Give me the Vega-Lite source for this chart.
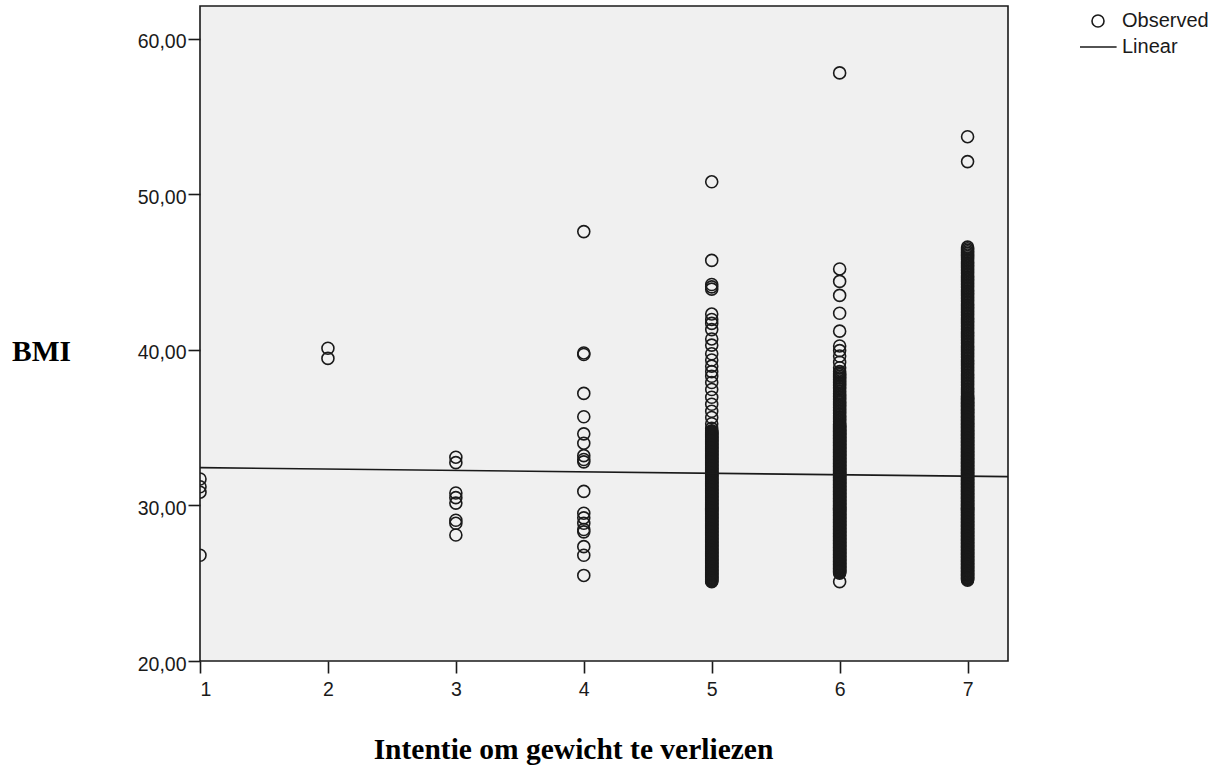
{
"$schema":"https://vega.github.io/schema/vega-lite/v6.json",
"width":808,"height":655,
"autosize":{"type":"none"},
"padding":{"left":200,"top":6,"right":221,"bottom":108},
"background":"white",
"config":{
"view":{"fill":"#f0f0f0","stroke":"#1a1a1a","strokeWidth":1.6},
"axis":{"domain":false,"grid":false,"tickColor":"#1a1a1a","tickWidth":1.6,"tickSize":12,"labelFont":"Liberation Sans","labelFontSize":19.5,"labelColor":"#1a1a1a","titleFont":"Liberation Serif","titleFontSize":29.5,"titleFontWeight":"bold","titleColor":"black"},
"legend":{"orient":"none","legendX":888,"legendY":5,"padding":0,"labelFont":"Liberation Sans","labelFontSize":20,"labelColor":"#1a1a1a","symbolSize":144,"symbolStrokeWidth":1.6,"symbolStrokeColor":"#1a1a1a","symbolFillColor":"transparent","labelOffset":14,"rowPadding":6}
},
"datasets":{
"fit":[{"intentie":1,"bmi":32.43},{"intentie":7.316,"bmi":31.85}],
"obs":[
{"intentie":1,"bmi":31.7},{"intentie":1,"bmi":31.2},{"intentie":1,"bmi":30.85},{"intentie":1,"bmi":26.8},
{"intentie":2,"bmi":40.1},{"intentie":2,"bmi":39.45},
{"intentie":3,"bmi":33.1},{"intentie":3,"bmi":32.75},{"intentie":3,"bmi":30.8},{"intentie":3,"bmi":30.5},{"intentie":3,"bmi":30.15},{"intentie":3,"bmi":29.05},{"intentie":3,"bmi":28.85},{"intentie":3,"bmi":28.1},
{"intentie":4,"bmi":47.6},{"intentie":4,"bmi":39.8},{"intentie":4,"bmi":39.7},{"intentie":4,"bmi":37.2},{"intentie":4,"bmi":35.7},{"intentie":4,"bmi":34.6},{"intentie":4,"bmi":34.0},{"intentie":4,"bmi":33.2},{"intentie":4,"bmi":32.95},{"intentie":4,"bmi":32.8},{"intentie":4,"bmi":30.9},{"intentie":4,"bmi":29.5},{"intentie":4,"bmi":29.2},{"intentie":4,"bmi":28.85},{"intentie":4,"bmi":28.45},{"intentie":4,"bmi":28.3},{"intentie":4,"bmi":27.35},{"intentie":4,"bmi":26.8},{"intentie":4,"bmi":25.5},
{"intentie":5,"bmi":50.8},{"intentie":5,"bmi":45.75},{"intentie":5,"bmi":44.2},{"intentie":5,"bmi":44.05},{"intentie":5,"bmi":43.9},{"intentie":5,"bmi":42.3},{"intentie":5,"bmi":41.95},{"intentie":5,"bmi":41.7},{"intentie":5,"bmi":41.3},{"intentie":5,"bmi":40.7},{"intentie":5,"bmi":40.3},{"intentie":5,"bmi":39.75},{"intentie":5,"bmi":39.35},{"intentie":5,"bmi":38.95},{"intentie":5,"bmi":38.6},{"intentie":5,"bmi":38.3},{"intentie":5,"bmi":37.9},{"intentie":5,"bmi":37.45},{"intentie":5,"bmi":36.95},{"intentie":5,"bmi":36.5},{"intentie":5,"bmi":36.05},{"intentie":5,"bmi":35.65},{"intentie":5,"bmi":35.25},{"intentie":5,"bmi":34.95},
{"intentie":5,"bmi":34.8},{"intentie":5,"bmi":34.75},{"intentie":5,"bmi":34.7},{"intentie":5,"bmi":34.65},{"intentie":5,"bmi":34.6},{"intentie":5,"bmi":34.55},{"intentie":5,"bmi":34.5},{"intentie":5,"bmi":34.45},{"intentie":5,"bmi":34.4},{"intentie":5,"bmi":34.35},{"intentie":5,"bmi":34.3},{"intentie":5,"bmi":34.25},{"intentie":5,"bmi":34.2},{"intentie":5,"bmi":34.15},{"intentie":5,"bmi":34.1},{"intentie":5,"bmi":34.05},{"intentie":5,"bmi":34.0},{"intentie":5,"bmi":33.95},{"intentie":5,"bmi":33.9},{"intentie":5,"bmi":33.85},{"intentie":5,"bmi":33.8},{"intentie":5,"bmi":33.75},{"intentie":5,"bmi":33.7},{"intentie":5,"bmi":33.65},{"intentie":5,"bmi":33.6},{"intentie":5,"bmi":33.55},{"intentie":5,"bmi":33.5},{"intentie":5,"bmi":33.45},{"intentie":5,"bmi":33.4},{"intentie":5,"bmi":33.35},{"intentie":5,"bmi":33.3},{"intentie":5,"bmi":33.25},{"intentie":5,"bmi":33.2},{"intentie":5,"bmi":33.15},{"intentie":5,"bmi":33.1},{"intentie":5,"bmi":33.05},{"intentie":5,"bmi":33.0},{"intentie":5,"bmi":32.95},{"intentie":5,"bmi":32.9},{"intentie":5,"bmi":32.85},{"intentie":5,"bmi":32.8},{"intentie":5,"bmi":32.75},{"intentie":5,"bmi":32.7},{"intentie":5,"bmi":32.65},{"intentie":5,"bmi":32.6},{"intentie":5,"bmi":32.55},{"intentie":5,"bmi":32.5},{"intentie":5,"bmi":32.45},{"intentie":5,"bmi":32.4},{"intentie":5,"bmi":32.35},{"intentie":5,"bmi":32.3},{"intentie":5,"bmi":32.25},{"intentie":5,"bmi":32.2},{"intentie":5,"bmi":32.15},{"intentie":5,"bmi":32.1},{"intentie":5,"bmi":32.05},{"intentie":5,"bmi":32.0},{"intentie":5,"bmi":31.95},{"intentie":5,"bmi":31.9},{"intentie":5,"bmi":31.85},{"intentie":5,"bmi":31.8},{"intentie":5,"bmi":31.75},{"intentie":5,"bmi":31.7},{"intentie":5,"bmi":31.65},{"intentie":5,"bmi":31.6},{"intentie":5,"bmi":31.55},{"intentie":5,"bmi":31.5},{"intentie":5,"bmi":31.45},{"intentie":5,"bmi":31.4},{"intentie":5,"bmi":31.35},{"intentie":5,"bmi":31.3},{"intentie":5,"bmi":31.25},{"intentie":5,"bmi":31.2},{"intentie":5,"bmi":31.15},{"intentie":5,"bmi":31.1},{"intentie":5,"bmi":31.05},{"intentie":5,"bmi":31.0},{"intentie":5,"bmi":30.95},{"intentie":5,"bmi":30.9},{"intentie":5,"bmi":30.85},{"intentie":5,"bmi":30.8},{"intentie":5,"bmi":30.75},{"intentie":5,"bmi":30.7},{"intentie":5,"bmi":30.65},{"intentie":5,"bmi":30.6},{"intentie":5,"bmi":30.55},{"intentie":5,"bmi":30.5},{"intentie":5,"bmi":30.45},{"intentie":5,"bmi":30.4},{"intentie":5,"bmi":30.35},{"intentie":5,"bmi":30.3},{"intentie":5,"bmi":30.25},{"intentie":5,"bmi":30.2},{"intentie":5,"bmi":30.15},{"intentie":5,"bmi":30.1},{"intentie":5,"bmi":30.05},{"intentie":5,"bmi":30.0},{"intentie":5,"bmi":29.95},{"intentie":5,"bmi":29.9},{"intentie":5,"bmi":29.85},{"intentie":5,"bmi":29.8},{"intentie":5,"bmi":29.75},{"intentie":5,"bmi":29.7},{"intentie":5,"bmi":29.65},{"intentie":5,"bmi":29.6},{"intentie":5,"bmi":29.55},{"intentie":5,"bmi":29.5},{"intentie":5,"bmi":29.45},{"intentie":5,"bmi":29.4},{"intentie":5,"bmi":29.35},{"intentie":5,"bmi":29.3},{"intentie":5,"bmi":29.25},{"intentie":5,"bmi":29.2},{"intentie":5,"bmi":29.15},{"intentie":5,"bmi":29.1},{"intentie":5,"bmi":29.05},{"intentie":5,"bmi":29.0},{"intentie":5,"bmi":28.95},{"intentie":5,"bmi":28.9},{"intentie":5,"bmi":28.85},{"intentie":5,"bmi":28.8},{"intentie":5,"bmi":28.75},{"intentie":5,"bmi":28.7},{"intentie":5,"bmi":28.65},{"intentie":5,"bmi":28.6},{"intentie":5,"bmi":28.55},{"intentie":5,"bmi":28.5},{"intentie":5,"bmi":28.45},{"intentie":5,"bmi":28.4},{"intentie":5,"bmi":28.35},{"intentie":5,"bmi":28.3},{"intentie":5,"bmi":28.25},{"intentie":5,"bmi":28.2},{"intentie":5,"bmi":28.15},{"intentie":5,"bmi":28.1},{"intentie":5,"bmi":28.05},{"intentie":5,"bmi":28.0},{"intentie":5,"bmi":27.95},{"intentie":5,"bmi":27.9},{"intentie":5,"bmi":27.85},{"intentie":5,"bmi":27.8},{"intentie":5,"bmi":27.75},{"intentie":5,"bmi":27.7},{"intentie":5,"bmi":27.65},{"intentie":5,"bmi":27.6},{"intentie":5,"bmi":27.55},{"intentie":5,"bmi":27.5},{"intentie":5,"bmi":27.45},{"intentie":5,"bmi":27.4},{"intentie":5,"bmi":27.35},{"intentie":5,"bmi":27.3},{"intentie":5,"bmi":27.25},{"intentie":5,"bmi":27.2},{"intentie":5,"bmi":27.15},{"intentie":5,"bmi":27.1},{"intentie":5,"bmi":27.05},{"intentie":5,"bmi":27.0},{"intentie":5,"bmi":26.95},{"intentie":5,"bmi":26.9},{"intentie":5,"bmi":26.85},{"intentie":5,"bmi":26.8},{"intentie":5,"bmi":26.75},{"intentie":5,"bmi":26.7},{"intentie":5,"bmi":26.65},{"intentie":5,"bmi":26.6},{"intentie":5,"bmi":26.55},{"intentie":5,"bmi":26.5},{"intentie":5,"bmi":26.45},{"intentie":5,"bmi":26.4},{"intentie":5,"bmi":26.35},{"intentie":5,"bmi":26.3},{"intentie":5,"bmi":26.25},{"intentie":5,"bmi":26.2},{"intentie":5,"bmi":26.15},{"intentie":5,"bmi":26.1},{"intentie":5,"bmi":26.05},{"intentie":5,"bmi":26.0},{"intentie":5,"bmi":25.95},{"intentie":5,"bmi":25.9},{"intentie":5,"bmi":25.85},{"intentie":5,"bmi":25.8},{"intentie":5,"bmi":25.75},{"intentie":5,"bmi":25.7},{"intentie":5,"bmi":25.65},{"intentie":5,"bmi":25.6},{"intentie":5,"bmi":25.55},{"intentie":5,"bmi":25.5},{"intentie":5,"bmi":25.45},{"intentie":5,"bmi":25.4},{"intentie":5,"bmi":25.35},{"intentie":5,"bmi":25.3},{"intentie":5,"bmi":25.25},{"intentie":5,"bmi":25.2},{"intentie":5,"bmi":25.15},{"intentie":5,"bmi":25.1},
{"intentie":6,"bmi":57.8},{"intentie":6,"bmi":45.2},{"intentie":6,"bmi":44.4},{"intentie":6,"bmi":43.5},{"intentie":6,"bmi":42.35},{"intentie":6,"bmi":41.2},{"intentie":6,"bmi":40.25},{"intentie":6,"bmi":39.95},{"intentie":6,"bmi":39.6},{"intentie":6,"bmi":39.2},{"intentie":6,"bmi":38.85},{"intentie":6,"bmi":38.6},{"intentie":6,"bmi":38.5},{"intentie":6,"bmi":38.4},{"intentie":6,"bmi":38.3},{"intentie":6,"bmi":38.2},{"intentie":6,"bmi":38.1},{"intentie":6,"bmi":38.0},{"intentie":6,"bmi":37.9},{"intentie":6,"bmi":37.8},{"intentie":6,"bmi":37.7},{"intentie":6,"bmi":37.6},{"intentie":6,"bmi":37.5},{"intentie":6,"bmi":37.35},{"intentie":6,"bmi":37.2},{"intentie":6,"bmi":37.1},{"intentie":6,"bmi":37.0},{"intentie":6,"bmi":36.9},{"intentie":6,"bmi":36.8},{"intentie":6,"bmi":36.7},{"intentie":6,"bmi":36.6},{"intentie":6,"bmi":36.5},{"intentie":6,"bmi":36.4},{"intentie":6,"bmi":36.3},{"intentie":6,"bmi":36.2},{"intentie":6,"bmi":36.1},{"intentie":6,"bmi":36.0},{"intentie":6,"bmi":35.9},{"intentie":6,"bmi":35.8},{"intentie":6,"bmi":35.7},{"intentie":6,"bmi":35.6},{"intentie":6,"bmi":35.5},{"intentie":6,"bmi":35.4},{"intentie":6,"bmi":35.3},
{"intentie":6,"bmi":35.2},{"intentie":6,"bmi":35.15},{"intentie":6,"bmi":35.1},{"intentie":6,"bmi":35.05},{"intentie":6,"bmi":35.0},{"intentie":6,"bmi":34.95},{"intentie":6,"bmi":34.9},{"intentie":6,"bmi":34.85},{"intentie":6,"bmi":34.8},{"intentie":6,"bmi":34.75},{"intentie":6,"bmi":34.7},{"intentie":6,"bmi":34.65},{"intentie":6,"bmi":34.6},{"intentie":6,"bmi":34.55},{"intentie":6,"bmi":34.5},{"intentie":6,"bmi":34.45},{"intentie":6,"bmi":34.4},{"intentie":6,"bmi":34.35},{"intentie":6,"bmi":34.3},{"intentie":6,"bmi":34.25},{"intentie":6,"bmi":34.2},{"intentie":6,"bmi":34.15},{"intentie":6,"bmi":34.1},{"intentie":6,"bmi":34.05},{"intentie":6,"bmi":34.0},{"intentie":6,"bmi":33.95},{"intentie":6,"bmi":33.9},{"intentie":6,"bmi":33.85},{"intentie":6,"bmi":33.8},{"intentie":6,"bmi":33.75},{"intentie":6,"bmi":33.7},{"intentie":6,"bmi":33.65},{"intentie":6,"bmi":33.6},{"intentie":6,"bmi":33.55},{"intentie":6,"bmi":33.5},{"intentie":6,"bmi":33.45},{"intentie":6,"bmi":33.4},{"intentie":6,"bmi":33.35},{"intentie":6,"bmi":33.3},{"intentie":6,"bmi":33.25},{"intentie":6,"bmi":33.2},{"intentie":6,"bmi":33.15},{"intentie":6,"bmi":33.1},{"intentie":6,"bmi":33.05},{"intentie":6,"bmi":33.0},{"intentie":6,"bmi":32.95},{"intentie":6,"bmi":32.9},{"intentie":6,"bmi":32.85},{"intentie":6,"bmi":32.8},{"intentie":6,"bmi":32.75},{"intentie":6,"bmi":32.7},{"intentie":6,"bmi":32.65},{"intentie":6,"bmi":32.6},{"intentie":6,"bmi":32.55},{"intentie":6,"bmi":32.5},{"intentie":6,"bmi":32.45},{"intentie":6,"bmi":32.4},{"intentie":6,"bmi":32.35},{"intentie":6,"bmi":32.3},{"intentie":6,"bmi":32.25},{"intentie":6,"bmi":32.2},{"intentie":6,"bmi":32.15},{"intentie":6,"bmi":32.1},{"intentie":6,"bmi":32.05},{"intentie":6,"bmi":32.0},{"intentie":6,"bmi":31.95},{"intentie":6,"bmi":31.9},{"intentie":6,"bmi":31.85},{"intentie":6,"bmi":31.8},{"intentie":6,"bmi":31.75},{"intentie":6,"bmi":31.7},{"intentie":6,"bmi":31.65},{"intentie":6,"bmi":31.6},{"intentie":6,"bmi":31.55},{"intentie":6,"bmi":31.5},{"intentie":6,"bmi":31.45},{"intentie":6,"bmi":31.4},{"intentie":6,"bmi":31.35},{"intentie":6,"bmi":31.3},{"intentie":6,"bmi":31.25},{"intentie":6,"bmi":31.2},{"intentie":6,"bmi":31.15},{"intentie":6,"bmi":31.1},{"intentie":6,"bmi":31.05},{"intentie":6,"bmi":31.0},{"intentie":6,"bmi":30.95},{"intentie":6,"bmi":30.9},{"intentie":6,"bmi":30.85},{"intentie":6,"bmi":30.8},{"intentie":6,"bmi":30.75},{"intentie":6,"bmi":30.7},{"intentie":6,"bmi":30.65},{"intentie":6,"bmi":30.6},{"intentie":6,"bmi":30.55},{"intentie":6,"bmi":30.5},{"intentie":6,"bmi":30.45},{"intentie":6,"bmi":30.4},{"intentie":6,"bmi":30.35},{"intentie":6,"bmi":30.3},{"intentie":6,"bmi":30.25},{"intentie":6,"bmi":30.2},{"intentie":6,"bmi":30.15},{"intentie":6,"bmi":30.1},{"intentie":6,"bmi":30.05},{"intentie":6,"bmi":30.0},{"intentie":6,"bmi":29.95},{"intentie":6,"bmi":29.9},{"intentie":6,"bmi":29.85},{"intentie":6,"bmi":29.8},{"intentie":6,"bmi":29.75},{"intentie":6,"bmi":29.7},{"intentie":6,"bmi":29.65},{"intentie":6,"bmi":29.6},{"intentie":6,"bmi":29.55},{"intentie":6,"bmi":29.5},{"intentie":6,"bmi":29.45},{"intentie":6,"bmi":29.4},{"intentie":6,"bmi":29.35},{"intentie":6,"bmi":29.3},{"intentie":6,"bmi":29.25},{"intentie":6,"bmi":29.2},{"intentie":6,"bmi":29.15},{"intentie":6,"bmi":29.1},{"intentie":6,"bmi":29.05},{"intentie":6,"bmi":29.0},{"intentie":6,"bmi":28.95},{"intentie":6,"bmi":28.9},{"intentie":6,"bmi":28.85},{"intentie":6,"bmi":28.8},{"intentie":6,"bmi":28.75},{"intentie":6,"bmi":28.7},{"intentie":6,"bmi":28.65},{"intentie":6,"bmi":28.6},{"intentie":6,"bmi":28.55},{"intentie":6,"bmi":28.5},{"intentie":6,"bmi":28.45},{"intentie":6,"bmi":28.4},{"intentie":6,"bmi":28.35},{"intentie":6,"bmi":28.3},{"intentie":6,"bmi":28.25},{"intentie":6,"bmi":28.2},{"intentie":6,"bmi":28.15},{"intentie":6,"bmi":28.1},{"intentie":6,"bmi":28.05},{"intentie":6,"bmi":28.0},{"intentie":6,"bmi":27.95},{"intentie":6,"bmi":27.9},{"intentie":6,"bmi":27.85},{"intentie":6,"bmi":27.8},{"intentie":6,"bmi":27.75},{"intentie":6,"bmi":27.7},{"intentie":6,"bmi":27.65},{"intentie":6,"bmi":27.6},{"intentie":6,"bmi":27.55},{"intentie":6,"bmi":27.5},{"intentie":6,"bmi":27.45},{"intentie":6,"bmi":27.4},{"intentie":6,"bmi":27.35},{"intentie":6,"bmi":27.3},{"intentie":6,"bmi":27.25},{"intentie":6,"bmi":27.2},{"intentie":6,"bmi":27.15},{"intentie":6,"bmi":27.1},{"intentie":6,"bmi":27.05},{"intentie":6,"bmi":27.0},{"intentie":6,"bmi":26.95},{"intentie":6,"bmi":26.9},{"intentie":6,"bmi":26.85},{"intentie":6,"bmi":26.8},{"intentie":6,"bmi":26.75},{"intentie":6,"bmi":26.7},{"intentie":6,"bmi":26.65},{"intentie":6,"bmi":26.6},{"intentie":6,"bmi":26.55},{"intentie":6,"bmi":26.5},{"intentie":6,"bmi":26.45},{"intentie":6,"bmi":26.4},{"intentie":6,"bmi":26.35},{"intentie":6,"bmi":26.3},{"intentie":6,"bmi":26.25},{"intentie":6,"bmi":26.2},{"intentie":6,"bmi":26.15},{"intentie":6,"bmi":26.1},{"intentie":6,"bmi":26.05},{"intentie":6,"bmi":26.0},{"intentie":6,"bmi":25.95},{"intentie":6,"bmi":25.9},{"intentie":6,"bmi":25.85},{"intentie":6,"bmi":25.8},{"intentie":6,"bmi":25.75},{"intentie":6,"bmi":25.7},{"intentie":6,"bmi":25.65},{"intentie":6,"bmi":25.1},
{"intentie":7,"bmi":53.7},{"intentie":7,"bmi":52.1},{"intentie":7,"bmi":46.6},{"intentie":7,"bmi":46.5},{"intentie":7,"bmi":46.4},{"intentie":7,"bmi":46.3},{"intentie":7,"bmi":46.2},{"intentie":7,"bmi":46.1},{"intentie":7,"bmi":46.0},{"intentie":7,"bmi":45.9},{"intentie":7,"bmi":45.8},{"intentie":7,"bmi":45.7},{"intentie":7,"bmi":45.6},{"intentie":7,"bmi":45.5},{"intentie":7,"bmi":45.4},{"intentie":7,"bmi":45.3},{"intentie":7,"bmi":45.2},{"intentie":7,"bmi":45.1},{"intentie":7,"bmi":45.0},{"intentie":7,"bmi":44.9},{"intentie":7,"bmi":44.8},{"intentie":7,"bmi":44.7},{"intentie":7,"bmi":44.6},{"intentie":7,"bmi":44.5},{"intentie":7,"bmi":44.4},{"intentie":7,"bmi":44.3},{"intentie":7,"bmi":44.2},{"intentie":7,"bmi":44.1},{"intentie":7,"bmi":44.0},{"intentie":7,"bmi":43.9},{"intentie":7,"bmi":43.8},{"intentie":7,"bmi":43.7},{"intentie":7,"bmi":43.6},{"intentie":7,"bmi":43.5},{"intentie":7,"bmi":43.4},{"intentie":7,"bmi":43.3},{"intentie":7,"bmi":43.2},{"intentie":7,"bmi":43.1},{"intentie":7,"bmi":43.0},{"intentie":7,"bmi":42.9},{"intentie":7,"bmi":42.8},{"intentie":7,"bmi":42.7},{"intentie":7,"bmi":42.6},{"intentie":7,"bmi":42.5},{"intentie":7,"bmi":42.4},{"intentie":7,"bmi":42.3},{"intentie":7,"bmi":42.2},{"intentie":7,"bmi":42.1},{"intentie":7,"bmi":42.0},{"intentie":7,"bmi":41.9},{"intentie":7,"bmi":41.8},{"intentie":7,"bmi":41.7},{"intentie":7,"bmi":41.6},{"intentie":7,"bmi":41.5},{"intentie":7,"bmi":41.4},{"intentie":7,"bmi":41.3},{"intentie":7,"bmi":41.2},{"intentie":7,"bmi":41.1},{"intentie":7,"bmi":41.0},{"intentie":7,"bmi":40.9},{"intentie":7,"bmi":40.8},{"intentie":7,"bmi":40.7},{"intentie":7,"bmi":40.6},{"intentie":7,"bmi":40.5},{"intentie":7,"bmi":40.4},{"intentie":7,"bmi":40.3},{"intentie":7,"bmi":40.2},{"intentie":7,"bmi":40.1},{"intentie":7,"bmi":40.0},{"intentie":7,"bmi":39.9},{"intentie":7,"bmi":39.8},{"intentie":7,"bmi":39.7},{"intentie":7,"bmi":39.6},{"intentie":7,"bmi":39.5},{"intentie":7,"bmi":39.4},{"intentie":7,"bmi":39.3},{"intentie":7,"bmi":39.2},{"intentie":7,"bmi":39.1},{"intentie":7,"bmi":39.0},{"intentie":7,"bmi":38.9},{"intentie":7,"bmi":38.8},{"intentie":7,"bmi":38.7},{"intentie":7,"bmi":38.6},{"intentie":7,"bmi":38.5},{"intentie":7,"bmi":38.4},{"intentie":7,"bmi":38.3},{"intentie":7,"bmi":38.2},{"intentie":7,"bmi":38.1},{"intentie":7,"bmi":38.0},{"intentie":7,"bmi":37.9},{"intentie":7,"bmi":37.8},{"intentie":7,"bmi":37.7},{"intentie":7,"bmi":37.6},{"intentie":7,"bmi":37.5},{"intentie":7,"bmi":37.4},{"intentie":7,"bmi":37.3},{"intentie":7,"bmi":37.2},{"intentie":7,"bmi":37.1},
{"intentie":7,"bmi":37.0},{"intentie":7,"bmi":36.95},{"intentie":7,"bmi":36.9},{"intentie":7,"bmi":36.85},{"intentie":7,"bmi":36.8},{"intentie":7,"bmi":36.75},{"intentie":7,"bmi":36.7},{"intentie":7,"bmi":36.65},{"intentie":7,"bmi":36.6},{"intentie":7,"bmi":36.55},{"intentie":7,"bmi":36.5},{"intentie":7,"bmi":36.45},{"intentie":7,"bmi":36.4},{"intentie":7,"bmi":36.35},{"intentie":7,"bmi":36.3},{"intentie":7,"bmi":36.25},{"intentie":7,"bmi":36.2},{"intentie":7,"bmi":36.15},{"intentie":7,"bmi":36.1},{"intentie":7,"bmi":36.05},{"intentie":7,"bmi":36.0},{"intentie":7,"bmi":35.95},{"intentie":7,"bmi":35.9},{"intentie":7,"bmi":35.85},{"intentie":7,"bmi":35.8},{"intentie":7,"bmi":35.75},{"intentie":7,"bmi":35.7},{"intentie":7,"bmi":35.65},{"intentie":7,"bmi":35.6},{"intentie":7,"bmi":35.55},{"intentie":7,"bmi":35.5},{"intentie":7,"bmi":35.45},{"intentie":7,"bmi":35.4},{"intentie":7,"bmi":35.35},{"intentie":7,"bmi":35.3},{"intentie":7,"bmi":35.25},{"intentie":7,"bmi":35.2},{"intentie":7,"bmi":35.15},{"intentie":7,"bmi":35.1},{"intentie":7,"bmi":35.05},{"intentie":7,"bmi":35.0},{"intentie":7,"bmi":34.95},{"intentie":7,"bmi":34.9},{"intentie":7,"bmi":34.85},{"intentie":7,"bmi":34.8},{"intentie":7,"bmi":34.75},{"intentie":7,"bmi":34.7},{"intentie":7,"bmi":34.65},{"intentie":7,"bmi":34.6},{"intentie":7,"bmi":34.55},{"intentie":7,"bmi":34.5},{"intentie":7,"bmi":34.45},{"intentie":7,"bmi":34.4},{"intentie":7,"bmi":34.35},{"intentie":7,"bmi":34.3},{"intentie":7,"bmi":34.25},{"intentie":7,"bmi":34.2},{"intentie":7,"bmi":34.15},{"intentie":7,"bmi":34.1},{"intentie":7,"bmi":34.05},{"intentie":7,"bmi":34.0},{"intentie":7,"bmi":33.95},{"intentie":7,"bmi":33.9},{"intentie":7,"bmi":33.85},{"intentie":7,"bmi":33.8},{"intentie":7,"bmi":33.75},{"intentie":7,"bmi":33.7},{"intentie":7,"bmi":33.65},{"intentie":7,"bmi":33.6},{"intentie":7,"bmi":33.55},{"intentie":7,"bmi":33.5},{"intentie":7,"bmi":33.45},{"intentie":7,"bmi":33.4},{"intentie":7,"bmi":33.35},{"intentie":7,"bmi":33.3},{"intentie":7,"bmi":33.25},{"intentie":7,"bmi":33.2},{"intentie":7,"bmi":33.15},{"intentie":7,"bmi":33.1},{"intentie":7,"bmi":33.05},{"intentie":7,"bmi":33.0},{"intentie":7,"bmi":32.95},{"intentie":7,"bmi":32.9},{"intentie":7,"bmi":32.85},{"intentie":7,"bmi":32.8},{"intentie":7,"bmi":32.75},{"intentie":7,"bmi":32.7},{"intentie":7,"bmi":32.65},{"intentie":7,"bmi":32.6},{"intentie":7,"bmi":32.55},{"intentie":7,"bmi":32.5},{"intentie":7,"bmi":32.45},{"intentie":7,"bmi":32.4},{"intentie":7,"bmi":32.35},{"intentie":7,"bmi":32.3},{"intentie":7,"bmi":32.25},{"intentie":7,"bmi":32.2},{"intentie":7,"bmi":32.15},{"intentie":7,"bmi":32.1},{"intentie":7,"bmi":32.05},{"intentie":7,"bmi":32.0},{"intentie":7,"bmi":31.95},{"intentie":7,"bmi":31.9},{"intentie":7,"bmi":31.85},{"intentie":7,"bmi":31.8},{"intentie":7,"bmi":31.75},{"intentie":7,"bmi":31.7},{"intentie":7,"bmi":31.65},{"intentie":7,"bmi":31.6},{"intentie":7,"bmi":31.55},{"intentie":7,"bmi":31.5},{"intentie":7,"bmi":31.45},{"intentie":7,"bmi":31.4},{"intentie":7,"bmi":31.35},{"intentie":7,"bmi":31.3},{"intentie":7,"bmi":31.25},{"intentie":7,"bmi":31.2},{"intentie":7,"bmi":31.15},{"intentie":7,"bmi":31.1},{"intentie":7,"bmi":31.05},{"intentie":7,"bmi":31.0},{"intentie":7,"bmi":30.95},{"intentie":7,"bmi":30.9},{"intentie":7,"bmi":30.85},{"intentie":7,"bmi":30.8},{"intentie":7,"bmi":30.75},{"intentie":7,"bmi":30.7},{"intentie":7,"bmi":30.65},{"intentie":7,"bmi":30.6},{"intentie":7,"bmi":30.55},{"intentie":7,"bmi":30.5},{"intentie":7,"bmi":30.45},{"intentie":7,"bmi":30.4},{"intentie":7,"bmi":30.35},{"intentie":7,"bmi":30.3},{"intentie":7,"bmi":30.25},{"intentie":7,"bmi":30.2},{"intentie":7,"bmi":30.15},{"intentie":7,"bmi":30.1},{"intentie":7,"bmi":30.05},{"intentie":7,"bmi":30.0},{"intentie":7,"bmi":29.95},{"intentie":7,"bmi":29.9},{"intentie":7,"bmi":29.85},{"intentie":7,"bmi":29.8},{"intentie":7,"bmi":29.75},{"intentie":7,"bmi":29.7},{"intentie":7,"bmi":29.65},{"intentie":7,"bmi":29.6},{"intentie":7,"bmi":29.55},{"intentie":7,"bmi":29.5},{"intentie":7,"bmi":29.45},{"intentie":7,"bmi":29.4},{"intentie":7,"bmi":29.35},{"intentie":7,"bmi":29.3},{"intentie":7,"bmi":29.25},{"intentie":7,"bmi":29.2},{"intentie":7,"bmi":29.15},{"intentie":7,"bmi":29.1},{"intentie":7,"bmi":29.05},{"intentie":7,"bmi":29.0},{"intentie":7,"bmi":28.95},{"intentie":7,"bmi":28.9},{"intentie":7,"bmi":28.85},{"intentie":7,"bmi":28.8},{"intentie":7,"bmi":28.75},{"intentie":7,"bmi":28.7},{"intentie":7,"bmi":28.65},{"intentie":7,"bmi":28.6},{"intentie":7,"bmi":28.55},{"intentie":7,"bmi":28.5},{"intentie":7,"bmi":28.45},{"intentie":7,"bmi":28.4},{"intentie":7,"bmi":28.35},{"intentie":7,"bmi":28.3},{"intentie":7,"bmi":28.25},{"intentie":7,"bmi":28.2},{"intentie":7,"bmi":28.15},{"intentie":7,"bmi":28.1},{"intentie":7,"bmi":28.05},{"intentie":7,"bmi":28.0},{"intentie":7,"bmi":27.95},{"intentie":7,"bmi":27.9},{"intentie":7,"bmi":27.85},{"intentie":7,"bmi":27.8},{"intentie":7,"bmi":27.75},{"intentie":7,"bmi":27.7},{"intentie":7,"bmi":27.65},{"intentie":7,"bmi":27.6},{"intentie":7,"bmi":27.55},{"intentie":7,"bmi":27.5},{"intentie":7,"bmi":27.45},{"intentie":7,"bmi":27.4},{"intentie":7,"bmi":27.35},{"intentie":7,"bmi":27.3},{"intentie":7,"bmi":27.25},{"intentie":7,"bmi":27.2},{"intentie":7,"bmi":27.15},{"intentie":7,"bmi":27.1},{"intentie":7,"bmi":27.05},{"intentie":7,"bmi":27.0},{"intentie":7,"bmi":26.95},{"intentie":7,"bmi":26.9},{"intentie":7,"bmi":26.85},{"intentie":7,"bmi":26.8},{"intentie":7,"bmi":26.75},{"intentie":7,"bmi":26.7},{"intentie":7,"bmi":26.65},{"intentie":7,"bmi":26.6},{"intentie":7,"bmi":26.55},{"intentie":7,"bmi":26.5},{"intentie":7,"bmi":26.45},{"intentie":7,"bmi":26.4},{"intentie":7,"bmi":26.35},{"intentie":7,"bmi":26.3},{"intentie":7,"bmi":26.25},{"intentie":7,"bmi":26.2},{"intentie":7,"bmi":26.15},{"intentie":7,"bmi":26.1},{"intentie":7,"bmi":26.05},{"intentie":7,"bmi":26.0},{"intentie":7,"bmi":25.95},{"intentie":7,"bmi":25.9},{"intentie":7,"bmi":25.85},{"intentie":7,"bmi":25.8},{"intentie":7,"bmi":25.75},{"intentie":7,"bmi":25.7},{"intentie":7,"bmi":25.65},{"intentie":7,"bmi":25.6},{"intentie":7,"bmi":25.55},{"intentie":7,"bmi":25.5},{"intentie":7,"bmi":25.45},{"intentie":7,"bmi":25.4},{"intentie":7,"bmi":25.35},{"intentie":7,"bmi":25.3},{"intentie":7,"bmi":25.25},{"intentie":7,"bmi":25.2}
]},
"layer":[
{"data":{"name":"obs"},
"mark":{"type":"point","filled":false,"size":144,"strokeWidth":1.6,"color":"#1a1a1a","opacity":1,"clip":true},
"encoding":{
"x":{"field":"intentie","type":"quantitative","scale":{"domain":[1,7.316],"nice":false,"zero":false},"axis":{"values":[1,2,3,4,5,6,7],"format":"d","title":"Intentie om gewicht te verliezen","titleX":373,"titleY":97,"titleAlign":"center","titleAnchor":null,"titleBaseline":"alphabetic","labelPadding":7}},
"y":{"field":"bmi","type":"quantitative","scale":{"domain":[20,62.1],"nice":false,"zero":false},"axis":{"values":[20,30,40,50,60],"labelExpr":"replace(format(datum.value, '.2f'), '.', ',')","title":"BMI","titleAngle":0,"titleX":-159,"titleY":354,"titleAlign":"center","titleAnchor":null,"titleBaseline":"alphabetic","labelPadding":2,"labelOffset":3}},
"shape":{"datum":"Observed","type":"nominal","scale":{"domain":["Observed","Linear"],"range":["circle","M-3,0L3.1,0"]},"legend":{"title":null}}
}},
{"data":{"name":"fit"},
"mark":{"type":"line","color":"#1a1a1a","strokeWidth":1.6},
"encoding":{"x":{"field":"intentie","type":"quantitative"},"y":{"field":"bmi","type":"quantitative"}}}
]
}
